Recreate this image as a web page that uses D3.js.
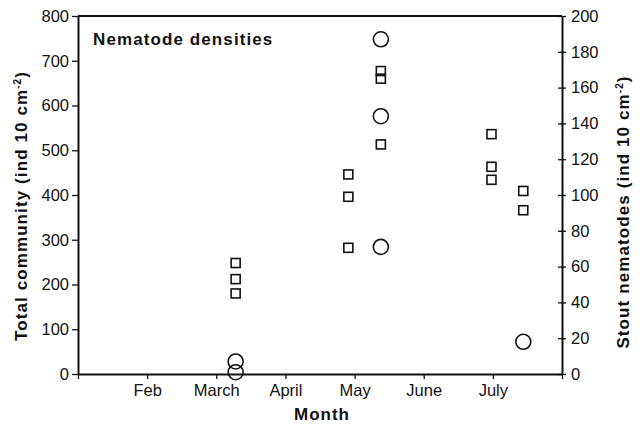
<!DOCTYPE html>
<html>
<head>
<meta charset="utf-8">
<script src="https://cdn.jsdelivr.net/npm/d3@7"></script>
<style>
  body { margin: 0; background: #fff; }
  svg text { font-family: "Liberation Sans", Arial, Helvetica, sans-serif; fill: #111; }
</style>
</head>
<body>
<div class="container"></div>
<script>
// month positions: 0 = Jan, 1 = Feb, ... 7 = Aug
var monthLabels = ["", "Feb", "March", "April", "May", "June", "July", ""];

// total community (squares, left axis)
var totalMonth  = [2.28, 2.28, 2.28, 3.91, 3.91, 3.91, 4.38, 4.38, 4.38, 5.98, 5.98, 5.98, 6.44, 6.44];
var totalValues = [248, 212, 180, 446, 396, 282, 677, 660, 513, 536, 463, 434, 409, 366];

// stout nematodes (circles, right axis)
var stoutMonth  = [2.28, 2.28, 4.38, 4.38, 4.38, 6.44];
var stoutValues = [7, 1, 187, 144, 71, 18];

var leftTicks  = [0, 100, 200, 300, 400, 500, 600, 700, 800];
var rightTicks = [0, 20, 40, 60, 80, 100, 120, 140, 160, 180, 200];

var W = 640, H = 424;
var m = {left: 78, right: 562, top: 16, bottom: 374};

var svg = d3.select(".container").append("svg")
  .attr("width", W).attr("height", H);

var x  = d3.scaleLinear().domain([0, 7]).range([m.left, m.right]);
var yL = d3.scaleLinear().domain([0, 800]).range([m.bottom, m.top]);
var yR = d3.scaleLinear().domain([0, 200]).range([m.bottom, m.top]);

var fs = "16.5px";

// left axis
var gL = svg.append("g").attr("transform", "translate(" + m.left + ",0)")
  .call(d3.axisLeft(yL).tickValues(leftTicks).tickSize(6).tickPadding(3).tickSizeOuter(0));
gL.selectAll("text").style("font-size", fs);

// right axis, ticks cross the line
var gR = svg.append("g").attr("transform", "translate(" + m.right + ",0)")
  .call(d3.axisRight(yR).tickValues(rightTicks).tickSize(4).tickPadding(5).tickSizeOuter(0));
gR.selectAll(".tick line").attr("x1", -4).attr("x2", 4);
gR.selectAll("text").style("font-size", fs);

// bottom axis
var gB = svg.append("g").attr("transform", "translate(0," + m.bottom + ")")
  .call(d3.axisBottom(x).tickValues(d3.range(0, 8)).tickSize(5).tickPadding(5).tickSizeOuter(0)
    .tickFormat(function(d) { return monthLabels[d]; }));
gB.selectAll("text").style("font-size", fs);

// top frame line
svg.append("line")
  .attr("x1", m.left).attr("x2", m.right).attr("y1", m.top).attr("y2", m.top)
  .attr("stroke", "#111").attr("stroke-width", 2);

svg.selectAll(".domain").attr("stroke", "#111").attr("stroke-width", 2);
svg.selectAll(".tick line").attr("stroke", "#111").attr("stroke-width", 1.3);

// squares
var sq = 9;
svg.append("g").selectAll("rect")
  .data(totalValues)
  .enter().append("rect")
  .attr("x", function(d, i) { return x(totalMonth[i]) - sq / 2; })
  .attr("y", function(d) { return yL(d) - sq / 2; })
  .attr("width", sq).attr("height", sq)
  .attr("fill", "none").attr("stroke", "#111").attr("stroke-width", 1.6);

// circles
svg.append("g").selectAll("circle")
  .data(stoutValues)
  .enter().append("circle")
  .attr("cx", function(d, i) { return x(stoutMonth[i]); })
  .attr("cy", function(d) { return yR(d); })
  .attr("r", 7.5)
  .attr("fill", "none").attr("stroke", "#111").attr("stroke-width", 1.6);

// title
svg.append("text")
  .attr("x", 93).attr("y", 45)
  .style("font-size", "17px").style("font-weight", "bold").style("letter-spacing", "1.1px")
  .text("Nematode densities");

// x title
svg.append("text")
  .attr("x", 322).attr("y", 420).attr("text-anchor", "middle")
  .style("font-size", "17px").style("font-weight", "bold").style("letter-spacing", "1px")
  .text("Month");

// y titles
function yTitle(tx, ty, label) {
  var t = svg.append("text")
    .attr("transform", "translate(" + tx + "," + ty + ") rotate(-90)")
    .attr("text-anchor", "middle")
    .style("font-size", "17px").style("font-weight", "bold").style("letter-spacing", "1.1px");
  t.append("tspan").text(label + " (ind 10 cm");
  t.append("tspan").attr("dy", -6).style("font-size", "10px").text("-2");
  t.append("tspan").attr("dy", 6).text(")");
}
yTitle(27, 206, "Total community");
yTitle(629, 212, "Stout nematodes");
</script>
</body>
</html>
